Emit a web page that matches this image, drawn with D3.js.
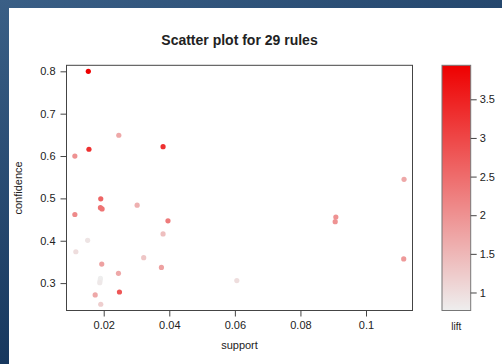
<!DOCTYPE html>
<html>
<head>
<meta charset="utf-8">
<script src="https://cdn.jsdelivr.net/npm/d3@7"></script>
<style>
  body { margin: 0; padding: 0; }
  text { font-family: "Liberation Sans", Arial, sans-serif; fill: #222; }
</style>
</head>
<body>
<div id="chart"></div>
<script>
// rule data
var support = [0.0153, 0.0246, 0.0155, 0.0381, 0.0112, 0.0191, 0.0190, 0.0195, 0.0302, 0.0112,
               0.0396, 0.0381, 0.0151, 0.0115, 0.0194, 0.0322, 0.0376, 0.0245, 0.0190, 0.0189,
               0.0188, 0.0248, 0.0174, 0.0191, 0.0606, 0.0908, 0.0906, 0.1116, 0.1115];
var confidence = [0.800, 0.649, 0.616, 0.622, 0.600, 0.499, 0.478, 0.475, 0.484, 0.462,
                  0.447, 0.416, 0.401, 0.374, 0.345, 0.360, 0.337, 0.323, 0.311, 0.306,
                  0.301, 0.279, 0.272, 0.250, 0.306, 0.456, 0.445, 0.545, 0.357];
var lift = [3.94, 1.7, 3.3, 3.3, 2.0, 2.6, 2.4, 2.4, 1.6, 2.1,
            2.3, 1.4, 0.9, 1.0, 1.8, 1.3, 1.8, 1.7, 0.77, 0.8,
            0.85, 2.8, 1.7, 1.2, 1.0, 2.0, 2.0, 1.7, 1.9];

var xTicks = [0.02, 0.04, 0.06, 0.08, 0.1];
var yTicks = [0.3, 0.4, 0.5, 0.6, 0.7, 0.8];
var liftTicks = [1, 1.5, 2, 2.5, 3, 3.5];

function init() {
    var w = 502, h = 364;
    var box = { left: 66.5, right: 412.5, top: 65.3, bottom: 310.5 };

    var svg = d3.select("#chart").append("svg")
        .attr("width", w)
        .attr("height", h);

    // blue desktop edge behind the window
    var defs = svg.append("defs");
    var bg = defs.append("linearGradient")
        .attr("id", "bg")
        .attr("x1", 0).attr("y1", 0).attr("x2", 0.6).attr("y2", 1);
    bg.append("stop").attr("offset", 0).attr("stop-color", "#3a5f86");
    bg.append("stop").attr("offset", 1).attr("stop-color", "#0b2a50");

    svg.append("rect").attr("width", w).attr("height", h).attr("fill", "url(#bg)");
    svg.append("rect").attr("x", 9).attr("y", 8).attr("width", w - 9).attr("height", h - 8)
        .attr("fill", "#fff");

    // scales
    var x = d3.scaleLinear().domain([0.00865, 0.11418]).range([box.left, box.right]);
    var y = d3.scaleLinear().domain([0.2353, 0.8142]).range([box.bottom, box.top]);
    var color = d3.scaleLinear()
        .domain([0.767, 3.94])
        .range(["#eeeeee", "#ee0000"]);

    // title
    svg.append("text")
        .attr("x", (box.left + box.right) / 2)
        .attr("y", 45)
        .attr("text-anchor", "middle")
        .style("font-size", "14px")
        .style("font-weight", "bold")
        .text("Scatter plot for " + support.length + " rules");

    // points, drawn low lift first so the red ones sit on top
    var idx = d3.range(support.length).sort(function (a, b) { return lift[a] - lift[b]; });
    svg.append("g").selectAll("circle")
        .data(idx)
        .enter()
        .append("circle")
        .attr("cx", function (i) { return x(support[i]); })
        .attr("cy", function (i) { return y(confidence[i]); })
        .attr("r", 2.6)
        .attr("fill", function (i) { return color(lift[i]); });

    // plot frame
    svg.append("rect")
        .attr("x", box.left).attr("y", box.top)
        .attr("width", box.right - box.left)
        .attr("height", box.bottom - box.top)
        .attr("fill", "none")
        .attr("stroke", "#444");

    // axes
    var xAxis = svg.append("g")
        .attr("transform", "translate(0," + box.bottom + ")")
        .call(d3.axisBottom(x).tickValues(xTicks).tickSize(6).tickPadding(5)
            .tickFormat(function (d) { return d3.format("~g")(d); }));
    var yAxis = svg.append("g")
        .attr("transform", "translate(" + box.left + ",0)")
        .call(d3.axisLeft(y).tickValues(yTicks).tickSize(6).tickPadding(5)
            .tickFormat(d3.format(".1f")));

    [xAxis, yAxis].forEach(function (a) {
        a.select(".domain").remove();
        a.selectAll("line").attr("stroke", "#444");
        a.selectAll("text").style("font-size", "11px").attr("fill", "#222")
            .style("font-family", "'Liberation Sans', Arial, sans-serif");
    });

    // axis titles
    svg.append("text")
        .attr("x", (box.left + box.right) / 2)
        .attr("y", 349)
        .attr("text-anchor", "middle")
        .style("font-size", "11px")
        .text("support");

    svg.append("text")
        .attr("transform", "translate(22," + ((box.top + box.bottom) / 2) + ") rotate(-90)")
        .attr("text-anchor", "middle")
        .style("font-size", "11px")
        .text("confidence");

    // colour key
    var key = { left: 442, right: 470.7 };
    var ly = d3.scaleLinear().domain(color.domain()).range([box.bottom, box.top]);

    var grad = defs.append("linearGradient")
        .attr("id", "liftGrad")
        .attr("x1", 0).attr("y1", 1).attr("x2", 0).attr("y2", 0);
    grad.selectAll("stop")
        .data(color.domain())
        .enter()
        .append("stop")
        .attr("offset", function (d, i) { return i; })
        .attr("stop-color", function (d) { return color(d); });

    svg.append("rect")
        .attr("x", key.left).attr("y", box.top)
        .attr("width", key.right - key.left)
        .attr("height", box.bottom - box.top)
        .attr("fill", "url(#liftGrad)")
        .attr("stroke", "#777");

    var keyAxis = svg.append("g")
        .attr("transform", "translate(" + key.right + ",0)")
        .call(d3.axisRight(ly).tickValues(liftTicks).tickSize(6).tickPadding(3)
            .tickFormat(function (d) { return d3.format("~g")(d); }));
    keyAxis.select(".domain").remove();
    keyAxis.selectAll("line").attr("stroke", "#444");
    keyAxis.selectAll("text").style("font-size", "11px").attr("fill", "#222")
        .style("font-family", "'Liberation Sans', Arial, sans-serif");

    svg.append("text")
        .attr("x", (key.left + key.right) / 2)
        .attr("y", 330)
        .attr("text-anchor", "middle")
        .style("font-size", "10px")
        .text("lift");
}
window.onload = init;
</script>
</body>
</html>
